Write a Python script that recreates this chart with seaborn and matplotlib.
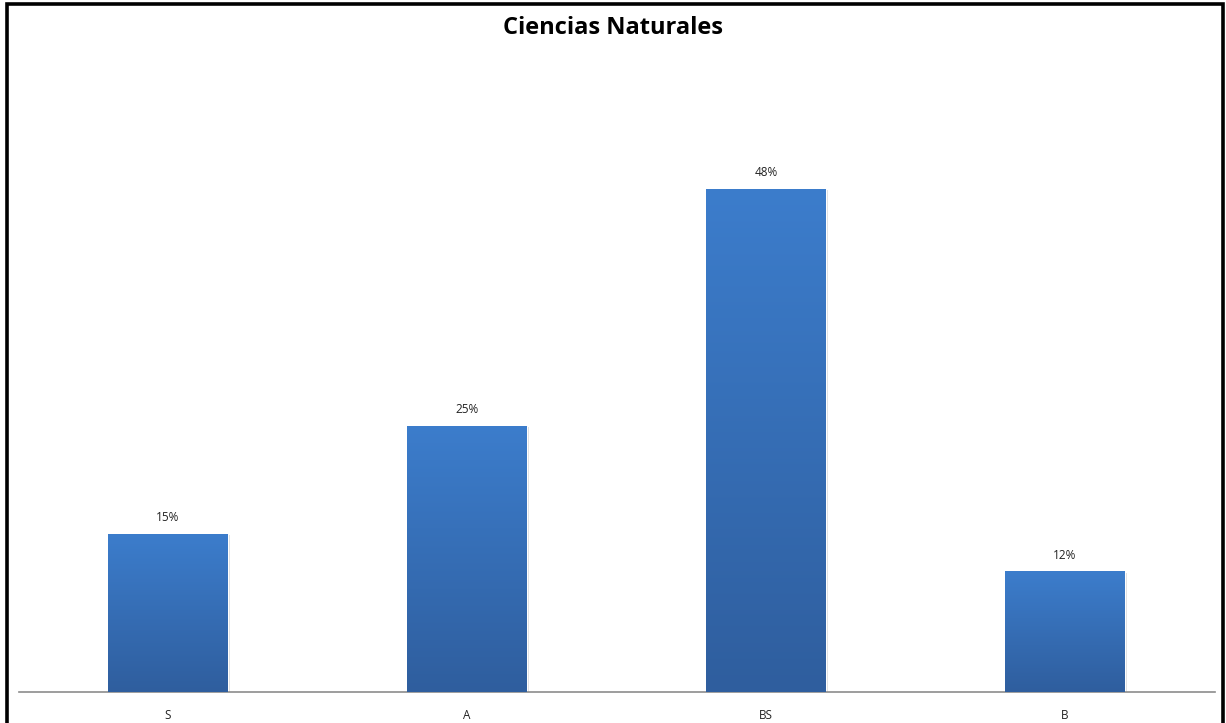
import matplotlib
matplotlib.use("Agg")
import matplotlib.pyplot as plt
import seaborn as sns
import numpy as np
import pandas as pd
from matplotlib.colors import LinearSegmentedColormap
from matplotlib.lines import Line2D

# ---------------------------------------------------
# Data
# ---------------------------------------------------

categories = ["S", "A", "BS", "B"]
percent = [15.1, 25.4, 48.0, 11.5]

df = pd.DataFrame({"nivel": categories, "pct": percent})

# ---------------------------------------------------
# Figure
# ---------------------------------------------------

sns.set_style("white")
plt.rcParams["font.family"] = ["Open Sans", "DejaVu Sans"]

fig = plt.figure(figsize=(12.26, 7.23), dpi=100)
ax = fig.add_axes([18.5 / 1226, 31 / 723, 1196 / 1226, 632 / 723])

sns.barplot(data=df, x="nivel", y="pct", color="#3a78c6", width=0.4,
            saturation=1, ax=ax, zorder=2)

# gradient fill on bars (lighter on top, darker at bottom)
grad = LinearSegmentedColormap.from_list("bar_grad", ["#2f5e9e", "#3c7dcc"])
gimg = np.linspace(0, 1, 256).reshape(-1, 1)
for bar in ax.patches:
    x0, y0 = bar.get_x(), bar.get_y()
    w, h = bar.get_width(), bar.get_height()
    # soft shadow
    ax.add_patch(plt.Rectangle((x0 + 0.004, y0), w + 0.004, h - 0.15,
                               color="#b8b8b8", alpha=0.5, zorder=1, lw=0))
    im = ax.imshow(gimg, extent=[x0, x0 + w, y0, y0 + h], origin="lower",
                   aspect="auto", cmap=grad, zorder=3)
    im.set_clip_path(bar)
    ax.text(x0 + w / 2, y0 + h + 0.9, f"{h:.0f}%", ha="center", va="bottom",
            fontsize=8.5, color="#222222")

ax.set_xlim(-0.5, len(categories) - 0.5)
ax.set_ylim(0, 60.3)
ax.set_xlabel("")
ax.set_ylabel("")
ax.set_yticks([])
ax.tick_params(axis="x", length=0, pad=12, labelsize=8.5, colors="#222222")

for side in ["top", "right", "left"]:
    ax.spines[side].set_visible(False)
ax.spines["bottom"].set_color("#8c8c8c")
ax.spines["bottom"].set_linewidth(1.2)

fig.text(0.5, 1 - 28 / 723, "Ciencias Naturales", ha="center", va="center",
         fontsize=17, fontweight="bold", color="black")

# black frame (left, top, right)
fx = [7 / 1226, 7 / 1226, 1223 / 1226, 1223 / 1226]
fy = [0, 1 - 4 / 723, 1 - 4 / 723, 0]
fig.add_artist(Line2D(fx, fy, color="black", lw=2.6,
                      transform=fig.transFigure, solid_joinstyle="miter"))

fig.savefig("out.png", dpi=100)
